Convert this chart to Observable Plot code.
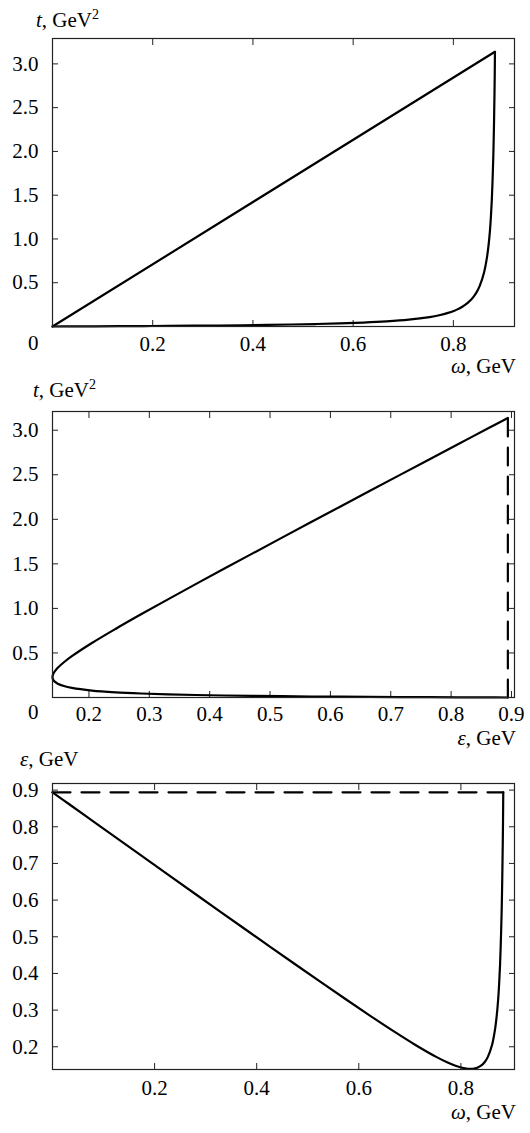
<!DOCTYPE html>
<html><head><meta charset="utf-8">
<script src="https://cdn.jsdelivr.net/npm/d3@7"></script>
<script src="https://cdn.jsdelivr.net/npm/@observablehq/plot@0.6"></script>
<style>
body{margin:0;background:#fff;}
#wrap{position:relative;width:530px;height:1133px;overflow:hidden;font-family:'Liberation Serif',serif;font-size:21px;color:#000;background:#fff;}
.lbl{position:absolute;line-height:21px;white-space:nowrap;}
.panel{position:absolute;left:0;}
.sup{font-size:14px;position:relative;top:-8px;}
</style></head><body>
<div id="wrap"></div>
<script>
// Boundary of the region (solid curve), in loop order
const omega = [0, 0.0328, 0.0825, 0.1321, 0.1816, 0.2311, 0.2805, 0.3298, 0.3789, 0.4279, 0.4767, 0.5251, 0.5731, 0.6203, 0.6665, 0.7110, 0.7526, 0.7718, 0.7894, 0.8021, 0.8080, 0.8135, 0.8187, 0.8235, 0.8280, 0.8321, 0.8394, 0.8468, 0.8526, 0.8610, 0.8665, 0.8703, 0.8731, 0.8751, 0.8767, 0.8779, 0.8789, 0.8798, 0.8805, 0.8811, 0.8816, 0.8821, 0.8825, 0.8828, 0.8830];
const eps = [0.894, 0.8614, 0.8121, 0.7629, 0.7138, 0.6648, 0.6160, 0.5674, 0.5191, 0.4712, 0.4237, 0.3768, 0.3309, 0.2863, 0.2439, 0.2049, 0.1717, 0.1585, 0.1483, 0.1428, 0.1410, 0.1400, 0.1396, 0.1400, 0.1410, 0.1428, 0.1483, 0.1585, 0.1717, 0.2049, 0.2439, 0.2863, 0.3309, 0.3768, 0.4237, 0.4712, 0.5191, 0.5674, 0.6160, 0.6648, 0.7138, 0.7629, 0.8121, 0.8614, 0.894];
const tVal = [0, 0.0007, 0.0020, 0.0034, 0.0050, 0.0069, 0.0090, 0.0115, 0.0145, 0.0181, 0.0226, 0.0282, 0.0354, 0.0451, 0.0585, 0.0781, 0.1080, 0.1288, 0.1552, 0.1809, 0.1956, 0.2114, 0.2286, 0.2470, 0.2667, 0.2876, 0.3329, 0.3954, 0.4634, 0.6112, 0.7693, 0.9336, 1.1016, 1.2721, 1.4442, 1.6174, 1.7915, 1.9662, 2.1414, 2.3170, 2.4928, 2.6689, 2.8452, 3.0217, 3.138];

// Upper boundary (epsilon = epsilon_max)
const boundaryOmega = [0, 0.883];
const boundaryEps = [0.894, 0.894];
const boundaryT = [0, 3.138];

// Tick values
const p1XTicks = [0.2, 0.4, 0.6, 0.8];
const p1YTicks = [0.5, 1.0, 1.5, 2.0, 2.5, 3.0];
const p2XTicks = [0.2, 0.3, 0.4, 0.5, 0.6, 0.7, 0.8, 0.9];
const p2YTicks = [0.5, 1.0, 1.5, 2.0, 2.5, 3.0];
const p3XTicks = [0.2, 0.4, 0.6, 0.8];
const p3YTicks = [0.2, 0.3, 0.4, 0.5, 0.6, 0.7, 0.8, 0.9];

const curve = omega.map((w, i) => ({omega: w, eps: eps[i], t: tVal[i]}));
const boundary = boundaryOmega.map((w, i) => ({omega: w, eps: boundaryEps[i], t: boundaryT[i]}));

const wrap = document.getElementById("wrap");
const fmt = d3.format(".1f");
const ink = "#222";

function panel({top, height, mt, mb, xDomain, yDomain, xTicks, yTicks, xPad, marks}) {
  const chart = Plot.plot({
    width: 530, height,
    marginTop: mt, marginBottom: mb, marginLeft: 52, marginRight: 16,
    x: {domain: xDomain}, y: {domain: yDomain},
    style: {fontFamily: "'Liberation Serif', serif", fontSize: "21px", background: "transparent", color: "#000", overflow: "visible"},
    marks: [
      Plot.axisX(xTicks, {anchor: "bottom", tickSize: -6, tickFormat: () => "", label: null, stroke: ink}),
      Plot.axisX(xTicks, {anchor: "top", tickSize: -6, tickFormat: () => "", label: null, stroke: ink}),
      Plot.axisY(yTicks, {anchor: "left", tickSize: -6, tickFormat: () => "", label: null, stroke: ink}),
      Plot.axisY(yTicks, {anchor: "right", tickSize: -6, tickFormat: () => "", label: null, stroke: ink}),
      Plot.axisX(xTicks, {anchor: "bottom", tickSize: 0, tickPadding: xPad, tickFormat: fmt, label: null, fill: "#000"}),
      Plot.axisY(yTicks, {anchor: "left", tickSize: 0, tickPadding: 14, tickFormat: fmt, label: null, fill: "#000"}),
      ...marks,
      Plot.frame({stroke: ink, strokeWidth: 1.2})
    ]
  });
  chart.classList.add("panel");
  chart.style.top = top + "px";
  wrap.appendChild(chart);
}

const lineStyle = {stroke: "#000", strokeWidth: 2.2, strokeLinejoin: "round"};

panel({
  top: 0, height: 360, mt: 38, mb: 34,
  xDomain: [0, 0.922], yDomain: [0, 3.29],
  xTicks: p1XTicks, yTicks: p1YTicks, xPad: 10,
  marks: [
    Plot.line(boundary, {x: "omega", y: "t", ...lineStyle}),
    Plot.line(curve, {x: "omega", y: "t", curve: "catmull-rom", ...lineStyle})
  ]
});

panel({
  top: 370, height: 360, mt: 41, mb: 33,
  xDomain: [0.1396, 0.905], yDomain: [0, 3.21],
  xTicks: p2XTicks, yTicks: p2YTicks, xPad: 9,
  marks: [
    Plot.line(boundary, {x: "eps", y: "t", ...lineStyle, strokeDasharray: "18,11"}),
    Plot.line(curve, {x: "eps", y: "t", curve: "catmull-rom", ...lineStyle})
  ]
});

panel({
  top: 745, height: 360, mt: 38, mb: 36,
  xDomain: [0, 0.905], yDomain: [0.138, 0.918],
  xTicks: p3XTicks, yTicks: p3YTicks, xPad: 11,
  marks: [
    Plot.line(boundary, {x: "omega", y: "eps", ...lineStyle, strokeDasharray: "18,11"}),
    Plot.line(curve, {x: "omega", y: "eps", curve: "catmull-rom", ...lineStyle})
  ]
});

const labels = [
  {html: "<i>t</i>, GeV<span class='sup'>2</span>", left: 36, top: 10},
  {html: "<i>ω</i>, GeV", right: 14, top: 356},
  {html: "0", left: 28, top: 333},
  {html: "<i>t</i>, GeV<span class='sup'>2</span>", left: 33, top: 380},
  {html: "<i>ε</i>, GeV", right: 14, top: 728},
  {html: "0", left: 28, top: 702},
  {html: "<i>ε</i>, GeV", left: 20, top: 749},
  {html: "<i>ω</i>, GeV", right: 14, top: 1102}
];
for (const l of labels) {
  const d = document.createElement("div");
  d.className = "lbl";
  d.innerHTML = l.html;
  d.style.top = l.top + "px";
  if (l.left != null) d.style.left = l.left + "px";
  if (l.right != null) d.style.right = l.right + "px";
  wrap.appendChild(d);
}
</script>
</body></html>
